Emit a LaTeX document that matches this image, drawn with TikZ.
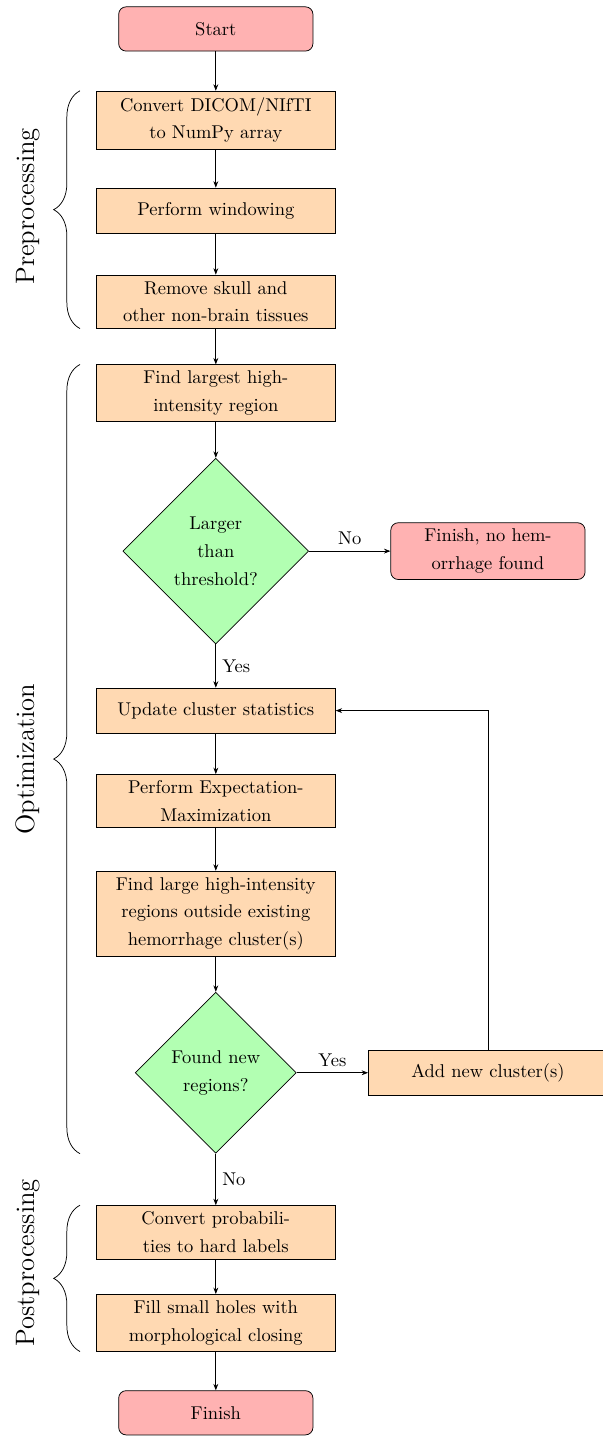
\documentclass[tikz,border=0pt]{standalone}
\usepackage{amsmath}
\usetikzlibrary{arrows.meta, shapes.geometric, decorations.pathreplacing, calc}

\begin{document}
\begin{tikzpicture}[
  font=\fontsize{10}{15}\selectfont,
  terminal/.style={rectangle, rounded corners=4pt, draw, fill=red!30, minimum width=3.69cm, minimum height=0.84cm, align=center},
  process/.style={rectangle, draw, fill=orange!30, minimum width=4.54cm, minimum height=0.855cm, align=center},
  decision/.style={diamond, draw, fill=green!30, aspect=1, inner sep=0pt, align=center},
  flow/.style={-{Stealth[length=3.5pt]}},
  phasebrace/.style={decorate, decoration={brace, amplitude=0.5cm}},
  phaselabel/.style={font=\Large, rotate=90}
]
  \useasboundingbox (-4.10,0) rectangle (7.35,-27.30);

  % Etapes principales
  \node[terminal] (start) at (0,-0.55) {Start};
  \node[process] (convert) at (0,-2.28) {Convert DICOM/NIfTI\\to NumPy array};
  \node[process] (window) at (0,-4.00) {Perform windowing};
  \node[process] (skull) at (0,-5.73) {Remove skull and\\other non-brain tissues};
  \node[process] (largest) at (0,-7.47) {Find largest high-\\intensity region};
  \node[decision, minimum size=3.53cm] (thresh) at (0,-10.47) {Larger\\than\\threshold?};
  \node[terminal] (nohem) at (5.17,-10.47) {Finish, no hem-\\orrhage found};
  \node[process] (update) at (0,-13.50) {Update cluster statistics};
  \node[process] (em) at (0,-15.22) {Perform Expectation-\\Maximization};
  \node[process] (regions) at (0,-17.36) {Find large high-intensity\\regions outside existing\\hemorrhage cluster(s)};
  \node[decision, minimum size=3.06cm] (found) at (0,-20.38) {Found new\\regions?};
  \node[process] (add) at (5.17,-20.38) {Add new cluster(s)};
  \node[process] (hard) at (0,-23.41) {Convert probabili-\\ties to hard labels};
  \node[process] (holes) at (0,-25.13) {Fill small holes with\\morphological closing};
  \node[terminal] (finish) at (0,-26.84) {Finish};

  % Fleches
  \draw[flow] (start) -- (convert);
  \draw[flow] (convert) -- (window);
  \draw[flow] (window) -- (skull);
  \draw[flow] (skull) -- (largest);
  \draw[flow] (largest) -- (thresh);
  \draw[flow] (thresh) -- node[midway, above] {No} (nohem);
  \draw[flow] (thresh) -- node[midway, right] {Yes} (update);
  \draw[flow] (update) -- (em);
  \draw[flow] (em) -- (regions);
  \draw[flow] (regions) -- (found);
  \draw[flow] (found) -- node[midway, above] {Yes} (add);
  \draw[flow] (add.north) |- (update.east);
  \draw[flow] (found) -- node[midway, right] {No} (hard);
  \draw[flow] (hard) -- (holes);
  \draw[flow] (holes) -- (finish);

  % Accolades des phases
  \coordinate (bx) at (-2.58,0);
  \draw[phasebrace] (skull.south -| bx) -- (convert.north -| bx);
  \draw[phasebrace] (found.south -| bx) -- (largest.north -| bx);
  \draw[phasebrace] (holes.south -| bx) -- (hard.north -| bx);
  \node[phaselabel] (pre) at (-3.57,-3.92) {Preprocessing};
  \node[phaselabel] (opt) at (-3.57,-14.42) {Optimization};
  \node[phaselabel] (post) at (-3.57,-23.99) {Postprocessing};
\end{tikzpicture}
\end{document}
